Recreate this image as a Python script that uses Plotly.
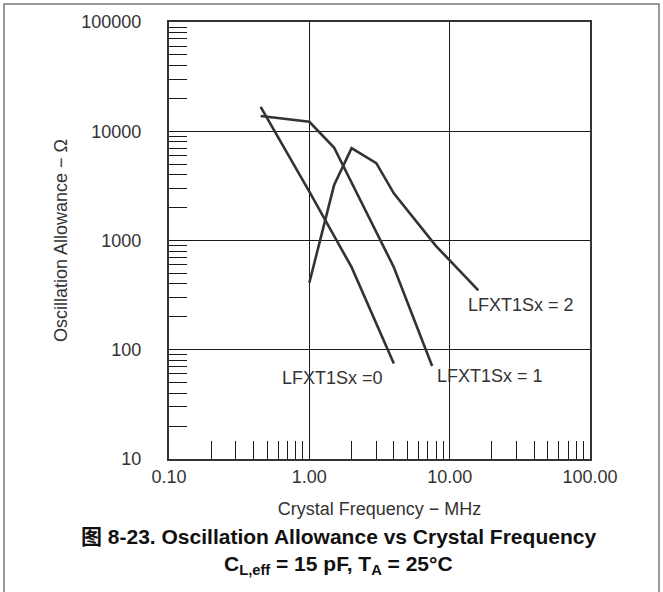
import plotly.graph_objects as go
import math

# ---- data ----
freq_s0 = [0.45, 1.0, 2.0, 4.0]
allow_s0 = [16700, 2800, 570, 75]
freq_s1 = [0.45, 1.0, 1.5, 4.0, 7.5]
allow_s1 = [13800, 12200, 7100, 570, 71]
freq_s2 = [1.0, 1.5, 2.0, 3.0, 4.0, 8.0, 16.0]
allow_s2 = [410, 3200, 7000, 5100, 2700, 890, 350]

x_tickvals = [0.1, 1, 10, 100]
x_ticktext = ["0.10", "1.00", "10.00", "100.00"]
y_tickvals = [10, 100, 1000, 10000, 100000]
y_ticktext = ["10", "100", "1000", "10000", "100000"]

labels = ["LFXT1Sx =0", "LFXT1Sx = 1", "LFXT1Sx = 2"]
label_x = [1.46, 19.5, 32.0]
label_y = [55, 58, 257]

FONT = "Liberation Sans, Arial, Noto Sans CJK SC, sans-serif"
LINE = "#333333"

W, H = 663, 592
ML, MR, MT, MB = 169, 73, 22, 133

fig = go.Figure()
for fx, ay in [(freq_s0, allow_s0), (freq_s1, allow_s1), (freq_s2, allow_s2)]:
    fig.add_trace(go.Scatter(x=fx, y=ay, mode="lines",
                             line=dict(color=LINE, width=2.6),
                             showlegend=False, hoverinfo="skip"))

for t, lx, ly in zip(labels, label_x, label_y):
    fig.add_annotation(x=math.log10(lx), y=math.log10(ly), text=t, showarrow=False,
                       xref="x", yref="y", xanchor="center", yanchor="middle",
                       font=dict(family=FONT, size=18, color="#333333"))

minor_x = [m * 10 ** e for e in range(-1, 2) for m in range(2, 10)]
minor_y = [m * 10 ** e for e in range(1, 5) for m in range(2, 10)]

fig.update_xaxes(type="log", range=[-1, 2], tickmode="array", tickvals=x_tickvals,
                 ticktext=x_ticktext, ticks="", showgrid=True, gridcolor="#1a1a1a",
                 gridwidth=1.2, showline=True, linecolor=LINE, linewidth=2.2, mirror=True,
                 zeroline=False,
                 minor=dict(tickmode="array", tickvals=minor_x, ticks="inside", ticklen=18,
                            tickcolor="#1a1a1a", tickwidth=1, showgrid=False),
                 tickfont=dict(family=FONT, size=18, color="#333333"),
                 title=dict(text="Crystal Frequency − MHz", standoff=17,
                            font=dict(family=FONT, size=18, color="#333333")))
fig.update_yaxes(type="log", range=[1, 5], tickmode="array", tickvals=y_tickvals,
                 ticktext=y_ticktext, ticks="", showgrid=True, gridcolor="#1a1a1a",
                 gridwidth=1.2, showline=True, linecolor=LINE, linewidth=2.2, mirror=True,
                 zeroline=False, ticklabelstandoff=22,
                 minor=dict(tickmode="array", tickvals=minor_y, ticks="inside", ticklen=18,
                            tickcolor="#1a1a1a", tickwidth=1, showgrid=False),
                 tickfont=dict(family=FONT, size=18, color="#333333"),
                 title=dict(text="Oscillation Allowance − Ω", standoff=9,
                            font=dict(family=FONT, size=18, color="#333333")))

pw = W - ML - MR
ph = H - MT - MB
def px2paper_x(p):
    return (p - ML) / pw
def py2paper_y(p):
    return (H - MB - p) / ph

# outer frame
fig.add_shape(type="rect", xref="paper", yref="paper",
              x0=px2paper_x(4), x1=px2paper_x(659), y0=py2paper_y(610), y1=py2paper_y(4),
              line=dict(color="#7a7a7a", width=1.5), layer="above")

fig.add_annotation(xref="paper", yref="paper", x=px2paper_x(338), y=py2paper_y(536),
                   xanchor="center", yanchor="middle",
                   text="<b>图 8-23. Oscillation Allowance vs Crystal Frequency</b>",
                   showarrow=False, font=dict(family=FONT, size=21, color="#111111"))
fig.add_annotation(xref="paper", yref="paper", x=px2paper_x(338), y=py2paper_y(565),
                   xanchor="center", yanchor="middle",
                   text="<b>C<sub>L,eff</sub> = 15 pF, T<sub>A</sub> = 25°C</b>",
                   showarrow=False, font=dict(family=FONT, size=21, color="#111111"))

fig.update_layout(width=W, height=H, margin=dict(l=ML, r=MR, t=MT, b=MB),
                  paper_bgcolor="white", plot_bgcolor="white",
                  font=dict(family=FONT, size=18, color="#333333"))

fig.write_html("out.html", config={"displayModeBar": False},
               post_script="document.body.style.margin='0px';document.body.style.overflow='hidden';")
